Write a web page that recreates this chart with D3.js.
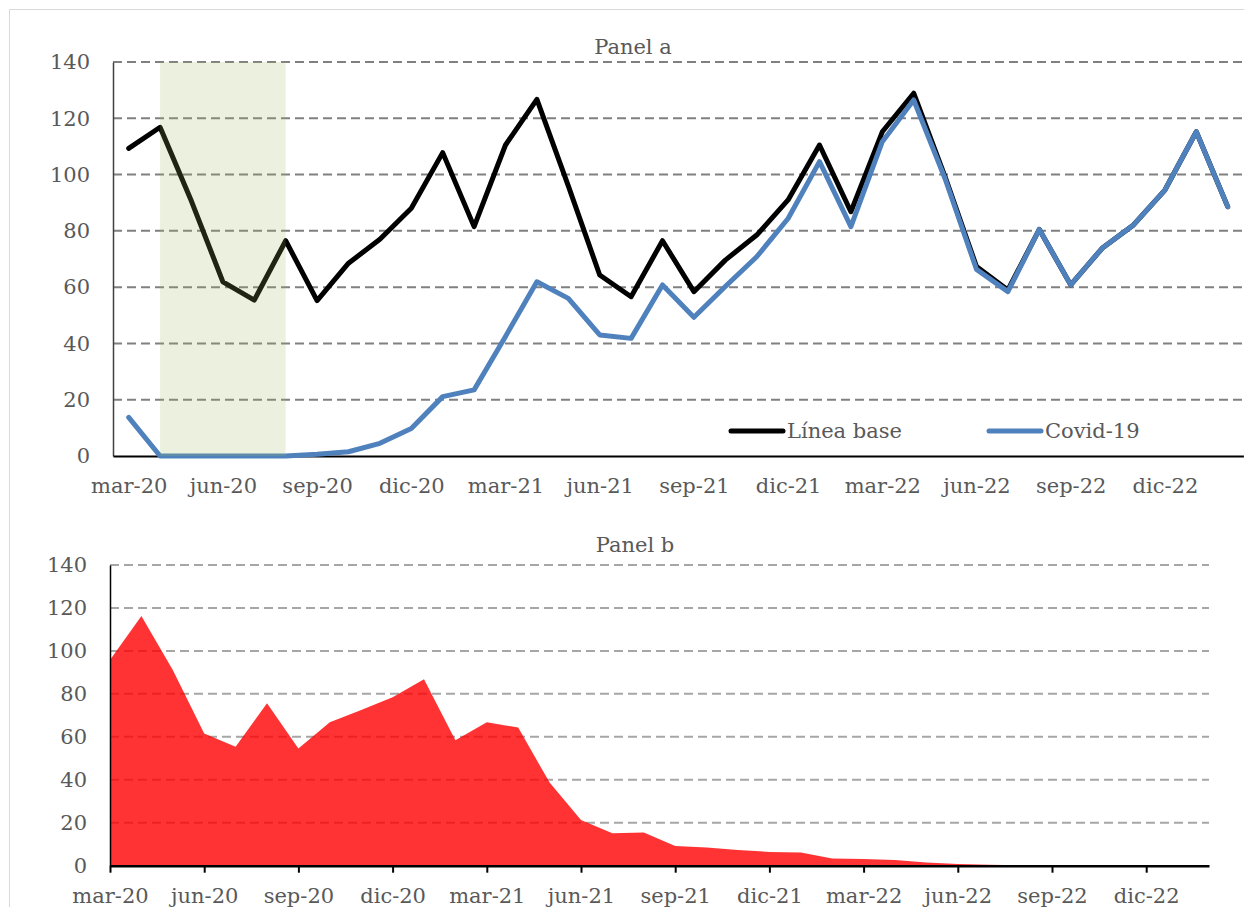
<!DOCTYPE html>
<html>
<head>
<meta charset="utf-8">
<script src="https://cdn.jsdelivr.net/npm/d3@7"></script>
<style>
  body { margin: 0; background: #fff; }
  svg text { font-family: "DejaVu Serif", serif; fill: #595959; }
</style>
</head>
<body>
<svg id="chart" width="1244" height="907"></svg>
<script>
var months = ["mar-20","abr-20","may-20","jun-20","jul-20","ago-20","sep-20","oct-20","nov-20","dic-20","ene-21","feb-21",
              "mar-21","abr-21","may-21","jun-21","jul-21","ago-21","sep-21","oct-21","nov-21","dic-21","ene-22","feb-22",
              "mar-22","abr-22","may-22","jun-22","jul-22","ago-22","sep-22","oct-22","nov-22","dic-22","ene-23","feb-23"];

var tickLabels = ["mar-20","jun-20","sep-20","dic-20","mar-21","jun-21","sep-21","dic-21","mar-22","jun-22","sep-22","dic-22"];
var yTicks = [0, 20, 40, 60, 80, 100, 120, 140];

var lineaBase = [109.3,116.8,90.5,61.9,55.4,76.5,55.2,68.5,77.0,88.0,107.8,81.5,
                 110.5,126.7,96.0,64.3,56.6,76.5,58.4,69.6,78.5,91.0,110.5,86.8,
                 115.2,128.9,99.2,67.3,59.0,80.5,60.8,73.8,82.1,94.5,115.2,88.6];

var covid = [13.7,0,0,0,0,0,0.6,1.5,4.5,9.8,21.1,23.5,
             42.5,61.9,56.0,43.0,41.8,60.8,49.3,60.2,70.8,84.4,104.6,81.5,
             111.7,126.5,98.5,66.3,58.4,80.5,60.8,73.8,82.1,94.5,115.2,88.6];

var panelB = [95.8,116.2,91.1,61.6,55.4,75.6,54.6,66.8,72.5,78.4,86.8,58.4,
              66.8,64.3,38.7,21.3,15.1,15.5,9.2,8.5,7.3,6.4,6.1,3.4,
              3.1,2.6,1.5,0.8,0.4,0.2,0.1,0,0,0,0,0];

var shadeRange = ["abr-20", "ago-20"];

var series = [
  { name: "Línea base", values: lineaBase, color: "#000000" },
  { name: "Covid-19", values: covid, color: "#4f81bd" }
];

var svg = d3.select("#chart");
var fontSize = "21px";

// frame
svg.append("path")
  .attr("d", "M9.5,907V9.5H1244")
  .attr("fill", "none")
  .attr("stroke", "#d9d9d9")
  .attr("stroke-width", 1);

// ---------- Panel a ----------
var ax = d3.scalePoint().domain(months).range([113, 1243.4]).padding(0.5);
var ay = d3.scaleLinear().domain([0, 140]).range([456, 62]);

var ga = svg.append("g");

ga.append("g")
  .selectAll("line")
  .data(yTicks.filter(function (d) { return d > 0; }))
  .enter().append("line")
  .attr("x1", 113).attr("x2", 1243)
  .attr("y1", function (d) { return ay(d); })
  .attr("y2", function (d) { return ay(d); })
  .attr("stroke", "#808080")
  .attr("stroke-width", 2)
  .attr("stroke-dasharray", "9,5");

var yAxisA = ga.append("g")
  .attr("transform", "translate(113,0)")
  .call(d3.axisLeft(ay).tickValues(yTicks).tickSize(0).tickPadding(23));
yAxisA.select(".domain").attr("stroke", "#404040").attr("stroke-width", 1.5);
yAxisA.selectAll("text").style("font-size", fontSize).attr("fill", "#595959");

var xAxisA = ga.append("g")
  .attr("transform", "translate(0,456)")
  .call(d3.axisBottom(ax).tickValues(tickLabels).tickSize(0).tickPadding(22));
xAxisA.select(".domain").attr("stroke", "#000").attr("stroke-width", 2);
xAxisA.selectAll("text").style("font-size", fontSize).attr("fill", "#595959");

var line = d3.line()
  .x(function (d, i) { return ax(months[i]); })
  .y(function (d) { return ay(d); });

series.forEach(function (s) {
  ga.append("path")
    .datum(s.values)
    .attr("d", line)
    .attr("fill", "none")
    .attr("stroke", s.color)
    .attr("stroke-width", 5)
    .attr("stroke-linejoin", "round")
    .attr("stroke-linecap", "round");
});

// shaded period (drawn over the lines, translucent)
ga.append("rect")
  .attr("x", ax(shadeRange[0]))
  .attr("width", ax(shadeRange[1]) - ax(shadeRange[0]))
  .attr("y", ay(140))
  .attr("height", ay(0) - ay(140))
  .attr("fill", "rgb(155,185,90)")
  .attr("fill-opacity", 0.2);

ga.append("text")
  .attr("x", 633).attr("y", 54)
  .attr("text-anchor", "middle")
  .style("font-size", fontSize)
  .text("Panel a");

// legend
var legendX = [729, 987];
series.forEach(function (s, i) {
  var lg = ga.append("g").attr("transform", "translate(" + legendX[i] + ",431)");
  lg.append("line")
    .attr("x1", 2).attr("x2", 54)
    .attr("stroke", s.color)
    .attr("stroke-width", 5)
    .attr("stroke-linecap", "round");
  lg.append("text")
    .attr("x", 58).attr("y", 7)
    .style("font-size", fontSize)
    .text(s.name);
});

// ---------- Panel b ----------
var bx = d3.scalePoint().domain(months).range([110, 1209]);
var by = d3.scaleLinear().domain([0, 140]).range([865.7, 565]);

var gb = svg.append("g");

gb.append("g")
  .selectAll("line")
  .data(yTicks.filter(function (d) { return d > 0; }))
  .enter().append("line")
  .attr("x1", 110).attr("x2", 1209)
  .attr("y1", function (d) { return by(d); })
  .attr("y2", function (d) { return by(d); })
  .attr("stroke", "#a6a6a6")
  .attr("stroke-width", 2)
  .attr("stroke-dasharray", "9,5");

var area = d3.area()
  .x(function (d, i) { return bx(months[i]); })
  .y0(by(0))
  .y1(function (d) { return by(d); });

gb.append("path")
  .datum(panelB)
  .attr("d", area)
  .attr("fill", "#ff0000")
  .attr("fill-opacity", 0.8);

var yAxisB = gb.append("g")
  .attr("transform", "translate(110,0)")
  .call(d3.axisLeft(by).tickValues(yTicks).tickSize(0).tickPadding(23));
yAxisB.select(".domain").attr("stroke", "#000").attr("stroke-width", 1.5);
yAxisB.selectAll("text").style("font-size", fontSize).attr("fill", "#595959");

var xAxisB = gb.append("g")
  .attr("transform", "translate(0,865.7)")
  .call(d3.axisBottom(bx).tickValues(tickLabels).tickSizeInner(7).tickSizeOuter(0).tickPadding(15));
xAxisB.select(".domain").attr("stroke", "#000").attr("stroke-width", 2.5);
xAxisB.selectAll(".tick line").attr("stroke", "#000").attr("stroke-width", 2);
xAxisB.selectAll("text").style("font-size", fontSize).attr("fill", "#595959");

gb.append("text")
  .attr("x", 635).attr("y", 552)
  .attr("text-anchor", "middle")
  .style("font-size", fontSize)
  .text("Panel b");
</script>
</body>
</html>
